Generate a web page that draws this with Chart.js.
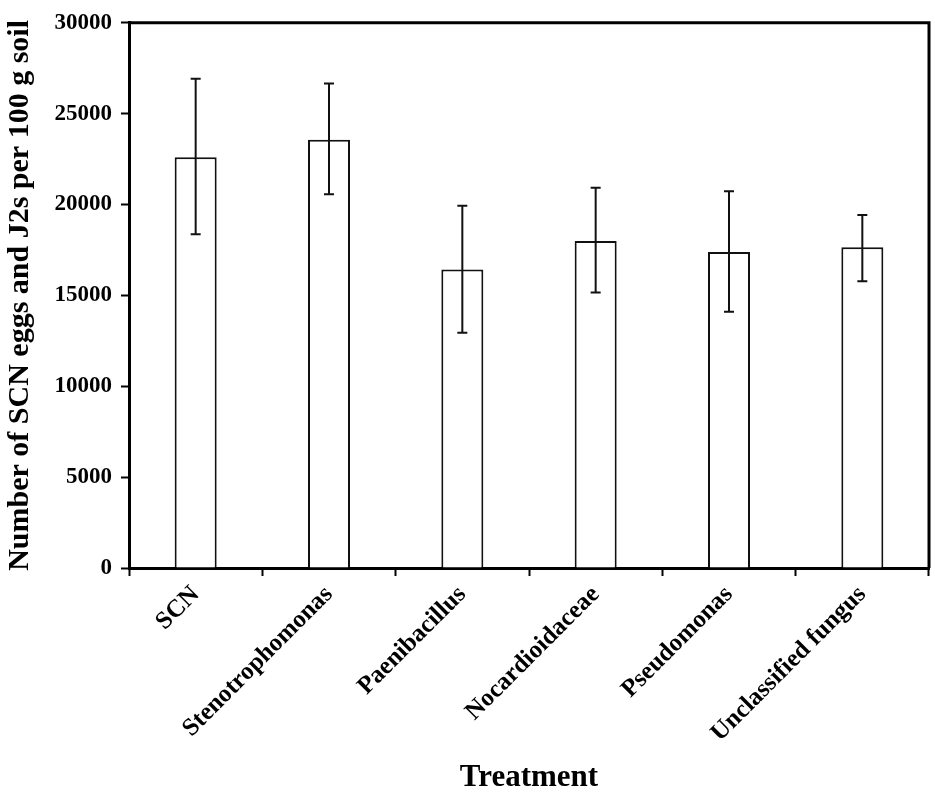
<!DOCTYPE html>
<html>
<head>
<meta charset="utf-8">
<script src="https://cdn.jsdelivr.net/npm/chart.js@4/dist/chart.umd.min.js"></script>
<style>
  body { margin: 0; background: #fff; }
  #chart { display: block; }
</style>
</head>
<body>
<canvas id="chart" width="935" height="794"></canvas>
<script>
const treatments = ["SCN", "Stenotrophomonas", "Paenibacillus", "Nocardioidaceae", "Pseudomonas", "Unclassified fungus"];
const eggCounts = [22600, 23570, 16420, 17990, 17390, 17650];
const errorHigh = [26920, 26660, 19930, 20920, 20730, 19420];
const errorLow = [18360, 20570, 12950, 15160, 14100, 15780];
const yTicks = [0, 5000, 10000, 15000, 20000, 25000, 30000];

const serif = "'Liberation Serif', 'Times New Roman', serif";

// error bars and the top/right frame
const extras = {
  id: "extras",
  afterDatasetsDraw(chart) {
    const ctx = chart.ctx;
    const y = chart.scales.y;
    const meta = chart.getDatasetMeta(0);
    ctx.save();
    ctx.strokeStyle = "#111";
    ctx.lineWidth = 2;
    meta.data.forEach((bar, i) => {
      const top = y.getPixelForValue(errorHigh[i]);
      const bottom = y.getPixelForValue(errorLow[i]);
      ctx.beginPath();
      ctx.moveTo(bar.x, top);
      ctx.lineTo(bar.x, bottom);
      ctx.moveTo(bar.x - 5, top);
      ctx.lineTo(bar.x + 5, top);
      ctx.moveTo(bar.x - 5, bottom);
      ctx.lineTo(bar.x + 5, bottom);
      ctx.stroke();
    });
    const a = chart.chartArea;
    ctx.lineWidth = 3;
    ctx.strokeStyle = "#000";
    ctx.beginPath();
    ctx.moveTo(a.left - 1, a.top);
    ctx.lineTo(a.right, a.top);
    ctx.lineTo(a.right, a.bottom);
    ctx.stroke();
    ctx.restore();
  }
};

new Chart(document.getElementById("chart").getContext("2d"), {
  type: "bar",
  data: {
    labels: treatments,
    datasets: [{
      data: eggCounts,
      backgroundColor: "#fff",
      borderColor: "#111",
      borderWidth: 2,
      barPercentage: 0.315,
      categoryPercentage: 1
    }]
  },
  options: {
    responsive: false,
    animation: false,
    layout: { padding: { top: 21, right: 6, left: 0, bottom: 0 } },
    plugins: { legend: { display: false }, tooltip: { enabled: false } },
    scales: {
      x: {
        afterFit: s => { s.height = 226; },
        border: { display: true, color: "#000", width: 3 },
        grid: { offset: true, drawOnChartArea: false, color: "#000", tickLength: 8, tickWidth: 2 },
        ticks: {
          color: "#000",
          minRotation: 45,
          maxRotation: 45,
          padding: 4,
          font: { family: serif, size: 25, weight: "bold" }
        },
        title: {
          display: true,
          text: "Treatment",
          color: "#000",
          padding: { top: 0, bottom: 1 },
          font: { family: serif, size: 31, weight: "bold", lineHeight: 1 }
        }
      },
      y: {
        min: 0,
        max: 30000,
        afterFit: s => { s.width = 129; },
        afterBuildTicks: s => { s.ticks = yTicks.map(v => ({ value: v })); },
        border: { display: true, color: "#000", width: 3 },
        grid: { drawOnChartArea: false, color: "#000", tickLength: 8, tickWidth: 2 },
        ticks: {
          color: "#000",
          padding: 9,
          callback: v => String(v),
          font: { family: serif, size: 23, weight: "bold" }
        },
        title: {
          display: true,
          text: "Number of SCN eggs and J2s per 100 g soil",
          color: "#000",
          padding: { top: 2, bottom: 4 },
          font: { family: serif, size: 30, weight: "bold" }
        }
      }
    }
  },
  plugins: [extras]
});
</script>
</body>
</html>
